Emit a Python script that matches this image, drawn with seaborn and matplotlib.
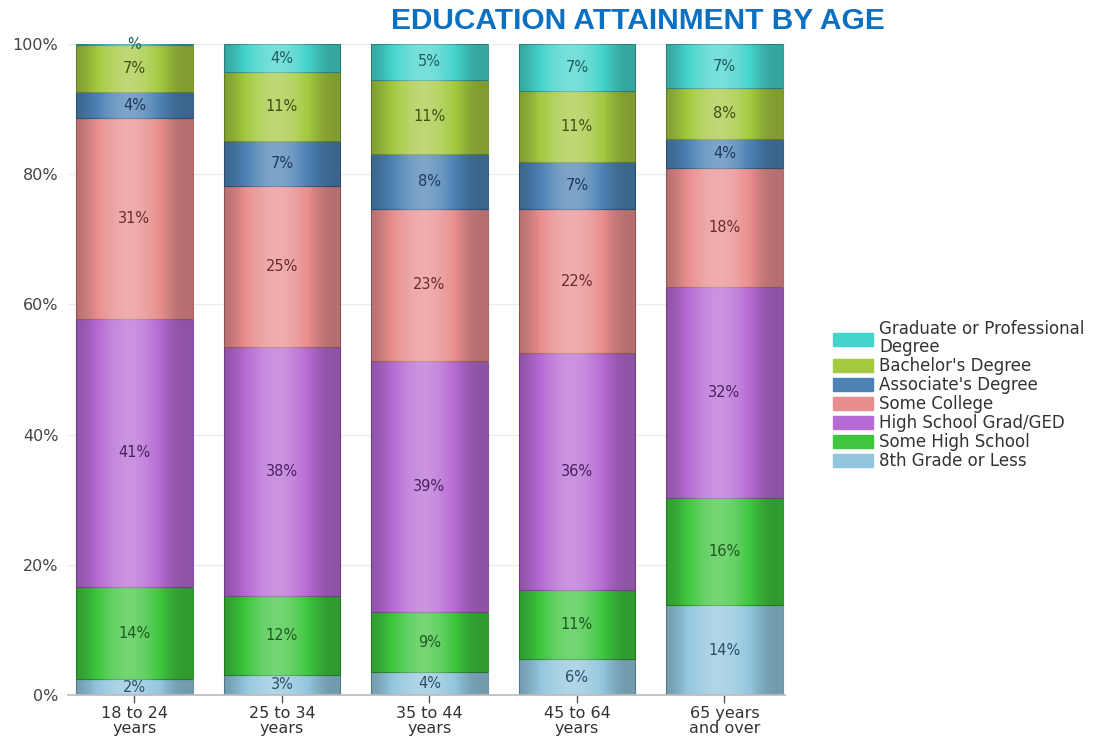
import numpy as np
import pandas as pd
import matplotlib
matplotlib.use("Agg")
import matplotlib.pyplot as plt
import seaborn as sns
from matplotlib.colors import to_rgb

# ---- data ----
age_groups = ["18 to 24\nyears", "25 to 34\nyears", "35 to 44\nyears", "45 to 64\nyears", "65 years\nand over"]
levels = ["8th Grade or Less", "Some High School", "High School Grad/GED", "Some College",
          "Associate's Degree", "Bachelor's Degree", "Graduate or Professional\nDegree"]
eighth_grade   = [2.4, 3.1, 3.5, 5.5, 13.8]
some_hs        = [14.2, 12.1, 9.2, 10.6, 16.5]
hs_grad        = [41.2, 38.3, 38.6, 36.4, 32.4]
some_college   = [30.8, 24.7, 23.4, 22.1, 18.3]
associate      = [4.0, 6.9, 8.4, 7.3, 4.4]
bachelor       = [7.2, 10.6, 11.45, 10.9, 7.8]
graduate       = [0.2, 4.3, 5.45, 7.2, 6.8]
series = [eighth_grade, some_hs, hs_grad, some_college, associate, bachelor, graduate]

colors = ["#92c6de", "#3ec63e", "#b66ad4", "#e98e8e", "#4c82b4", "#a5c940", "#45d4cc"]
text_colors = ["#28506a", "#1d5a1d", "#4a2060", "#6a2c2c", "#1e3a5c", "#3e5214", "#1e5e5a"]
yticks = [0, 20, 40, 60, 80, 100]

sns.set_theme(style="white")
plt.rcParams['font.family'] = ['DejaVu Sans']

fig = plt.figure(figsize=(11.02, 7.38), dpi=100)
ax = fig.add_axes([0.0617, 0.0583, 0.6506, 0.882])

bottoms = np.zeros(len(age_groups))
xpos = np.arange(len(age_groups))
handles = []
for i, (lvl, vals) in enumerate(zip(levels, series)):
    vals = np.array(vals, dtype=float)
    n_before = len(ax.patches)
    sns.barplot(x=age_groups, y=vals, bottom=bottoms, color=colors[i], ax=ax,
                width=0.79, edgecolor=tuple(c * 0.75 for c in to_rgb(colors[i])),
                linewidth=0.8, saturation=1, zorder=2)
    new_patches = ax.patches[n_before:]
    # gradient shading clipped to each bar segment
    t = np.linspace(0, 1, 200)
    v = 0.5 * np.cos(np.pi * (t - 0.45)) ** 2 - 0.22
    rgba = np.zeros((1, t.size, 4))
    rgba[0, :, :3] = np.where(v[:, None] > 0, 1.0, 0.0)
    rgba[0, :, 3] = np.clip(np.abs(v), 0, 1)
    for p in new_patches:
        x0, y0 = p.get_x(), p.get_y()
        w, h = p.get_width(), p.get_height()
        im = ax.imshow(rgba, extent=(x0, x0 + w, y0, y0 + h), aspect='auto',
                       interpolation='bilinear', zorder=2.5)
        im.set_clip_path(p)
    for j, val in enumerate(vals):
        lab = f"{round(val)}%" if val >= 1 else "%"
        ax.text(xpos[j], bottoms[j] + val / 2, lab, ha='center', va='center',
                fontsize=10.5, color=text_colors[i], zorder=4, clip_on=False)
    handles.append(plt.Rectangle((0, 0), 1, 1, color=colors[i]))
    bottoms = bottoms + vals

ax.set_xlim(-0.45, 4.41)
ax.set_ylim(0, 100)
ax.set_aspect('auto')
ax.set_yticks(yticks)
ax.set_yticklabels([f"{t}%" for t in yticks], fontsize=11.5, color="#444444")
ax.tick_params(axis='y', length=0, pad=7)
ax.tick_params(axis='x', length=6, width=1, color="#555555", labelsize=11.5,
               labelcolor="#333333", bottom=True, pad=2, direction='out')
for lbl in ax.get_xticklabels():
    lbl.set_linespacing(1.0)
ax.yaxis.grid(True, color="#ececec", linewidth=1, zorder=0)
ax.set_axisbelow(True)
for s in ["top", "right", "left"]:
    ax.spines[s].set_visible(False)
ax.spines["bottom"].set_color("#bbbbbb")
ax.set_xlabel("")
ax.set_ylabel("")

fig.text(0.579, 0.972, "EDUCATION ATTAINMENT BY AGE", ha='center', va='center',
         fontsize=21.5, fontweight='bold', color="#0a70c2", family=['Liberation Sans', 'DejaVu Sans'])

leg = fig.legend(handles[::-1], levels[::-1], loc='upper left', bbox_to_anchor=(0.756, 0.566),
                 frameon=False, fontsize=12, handlelength=2.4, handleheight=0.9,
                 handletextpad=0.35, labelspacing=0.06, borderaxespad=0, borderpad=0)
for t in leg.get_texts():
    t.set_color("#333333")
    t.set_linespacing(1.0)

fig.savefig("out.png", dpi=100)
